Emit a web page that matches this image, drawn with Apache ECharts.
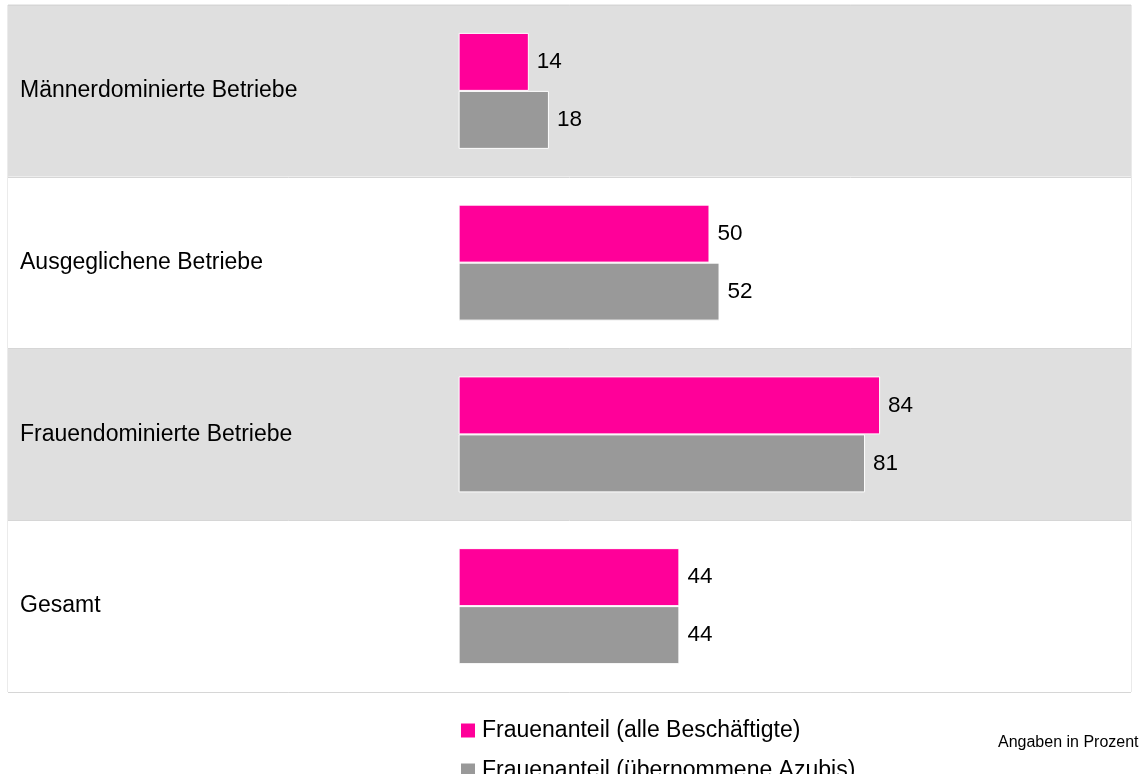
<!DOCTYPE html>
<html><head><meta charset="utf-8">
<script src="https://cdn.jsdelivr.net/npm/echarts@6/dist/echarts.min.js"></script>
<style>html,body{margin:0;padding:0;background:#fff}#c{width:1147px;height:774px}</style>
</head><body><div id="c"></div>
<script>
const categories = ['Männerdominierte Betriebe', 'Ausgeglichene Betriebe', 'Frauendominierte Betriebe', 'Gesamt'];
const seriesNames = ['Frauenanteil (alle Beschäftigte)', 'Frauenanteil (übernommene Azubis)'];
const alleBeschaeftigte = [14, 50, 84, 44];
const uebernommeneAzubis = [18, 52, 81, 44];
const noteText = 'Angaben in Prozent';

const FONT = '"Liberation Sans", Arial, sans-serif';
const chart = echarts.init(document.getElementById('c'), null, {renderer: 'canvas'});
const labelCfg = {show: true, position: 'right', distance: 8, color: '#000', fontSize: 22.5, fontFamily: FONT};
const legendBase = {
  orient: 'vertical', left: 456, padding: 5, itemWidth: 14, itemHeight: 14,
  icon: 'rect', itemStyle: {borderWidth: 0},
  textStyle: {fontSize: 23, color: '#000', fontFamily: FONT, padding: [0, 0, 0, 2]}
};
chart.setOption({
  animation: false,
  textStyle: {fontFamily: FONT},
  title: {text: noteText, left: 993, top: 730, textStyle: {fontSize: 16, fontWeight: 'normal', color: '#000', fontFamily: FONT}},
  legend: [
    Object.assign({}, legendBase, {top: 714, data: [seriesNames[0]]}),
    Object.assign({}, legendBase, {top: 754, data: [seriesNames[1]]})
  ],
  grid: {left: 8, right: 16, top: 5, bottom: 82, show: true, borderColor: '#d6d6d6', borderWidth: 1, backgroundColor: 'transparent'},
  xAxis: {type: 'value', min: -89.8, max: 134, show: false},
  yAxis: {
    type: 'category', data: categories, inverse: true,
    axisLine: {show: false}, axisTick: {show: false},
    axisLabel: {inside: true, margin: 12, color: '#000', fontSize: 23, fontFamily: FONT},
    splitLine: {show: true, lineStyle: {color: '#d6d6d6', width: 1}},
    splitArea: {show: true, areaStyle: {color: ['#dfdfdf', '#ffffff']}}
  },
  series: [
    {name: seriesNames[0], type: 'bar', data: alleBeschaeftigte, barWidth: 58, barGap: '0%',
     itemStyle: {color: '#ff0099', borderColor: '#ffffff', borderWidth: 1}, label: labelCfg},
    {name: seriesNames[1], type: 'bar', data: uebernommeneAzubis, barWidth: 58,
     itemStyle: {color: '#999999', borderColor: '#ffffff', borderWidth: 1}, label: labelCfg}
  ]
});
</script></body></html>
